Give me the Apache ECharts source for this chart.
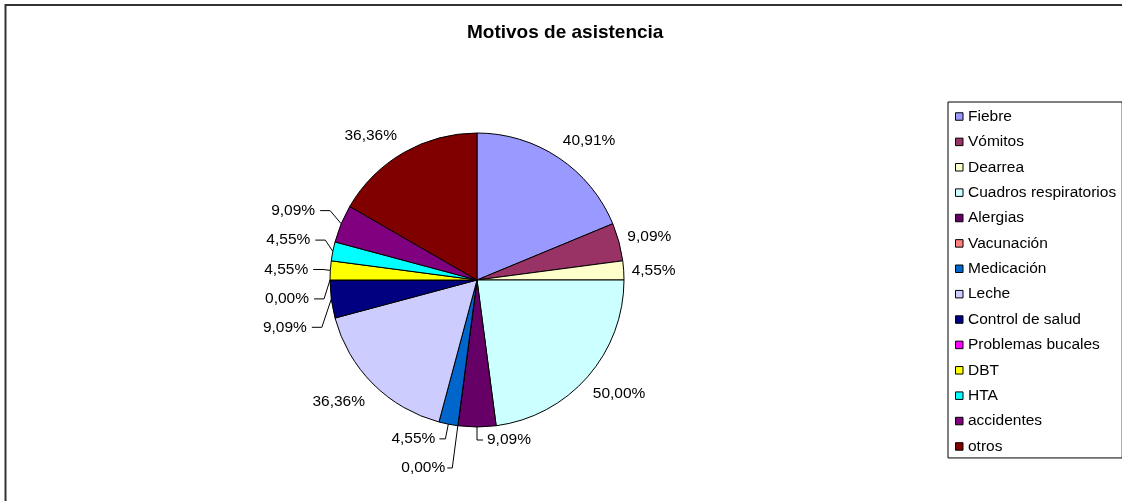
<!DOCTYPE html>
<html>
<head>
<meta charset="utf-8">
<title>Motivos de asistencia</title>
<script src="https://cdn.jsdelivr.net/npm/echarts@6.0.0/dist/echarts.min.js"></script>
<style>
  html, body { margin: 0; padding: 0; background: #fff; }
  #pieChart { width: 1122px; height: 501px; }
</style>
</head>
<body>
<div id="pieChart"></div>
<script>
// datos
const motivos = ['Fiebre', 'Vómitos', 'Dearrea', 'Cuadros respiratorios', 'Alergias', 'Vacunación',
  'Medicación', 'Leche', 'Control de salud', 'Problemas bucales', 'DBT', 'HTA', 'accidentes', 'otros'];
const porcentajes = [40.91, 9.09, 4.55, 50.00, 9.09, 0.00, 4.55, 36.36, 9.09, 0.00, 4.55, 4.55, 9.09, 36.36];

// paleta excel
const colores = ['#9999FF', '#993366', '#FFFFCC', '#CCFFFF', '#660066', '#FF8080', '#0066CC',
  '#CCCCFF', '#000080', '#FF00FF', '#FFFF00', '#00FFFF', '#800080', '#800000'];

// ajuste de etiquetas: [largo1, largo2, distancia, con linea, serie]
const etiquetas = {
  'Fiebre': [20, 0, -7, false, 'A'],
  'Vómitos': [19, 0, -10, false, 'A'],
  'Dearrea': [2, 0, 6, false, 'A'],
  'Cuadros respiratorios': [25, 0, -13.5, false, 'A'],
  'Alergias': [13, 6, 4, true, 'A'],
  'Vacunación': [42.6, 5, 2, true, 'A'],
  'Medicación': [15, 6, 4, true, 'A'],
  'Leche': [25.5, 0, -10, false, 'A'],
  'Control de salud': [20, 10, 5, true, 'B'],
  'Problemas bucales': [12, 10, 5, true, 'B'],
  'DBT': [12, 10, 5, true, 'B'],
  'HTA': [12, 10, 5, true, 'B'],
  'accidentes': [12, 10, 5, true, 'B'],
  'otros': [20, 0, -3.5, false, 'A']
};

const fuente = 'Arial, "Liberation Sans", sans-serif';

function formatoPct(p) {
  return p.value.toFixed(2).replace('.', ',') + '%';
}

function armarDatos(serie) {
  return motivos.map(function (m, i) {
    const t = etiquetas[m];
    const mostrar = t[4] === serie;
    return {
      name: m,
      value: porcentajes[i],
      itemStyle: serie === 'A' ? { color: colores[i] } : undefined,
      label: { show: mostrar, distanceToLabelLine: t[2] },
      labelLine: { show: mostrar && t[3], length: t[0], length2: t[1] }
    };
  });
}

const chart = echarts.init(document.getElementById('pieChart'));
chart.setOption({
  animation: false,
  backgroundColor: '#fff',
  title: {
    text: 'Motivos de asistencia',
    left: 467,
    top: 23,
    padding: 0,
    textStyle: { fontFamily: fuente, fontSize: 19, fontWeight: 'bold', color: '#000' }
  },
  legend: {
    orient: 'vertical',
    left: 948,
    top: 102,
    padding: [6.5, 6, 3.5, 7],
    itemWidth: 7.5,
    itemHeight: 7.5,
    itemGap: 9.38,
    icon: 'rect',
    borderColor: '#000',
    borderWidth: 1,
    itemStyle: { borderColor: '#000', borderWidth: 1 },
    textStyle: { fontFamily: fuente, fontSize: 15.5, color: '#000', lineHeight: 16 },
    data: motivos
  },
  graphic: [{
    type: 'rect',
    silent: true,
    shape: { x: 5.5, y: 5, width: 1200, height: 600 },
    style: { fill: 'none', stroke: '#333', lineWidth: 2 }
  }],
  series: [
    {
      name: 'A',
      type: 'pie',
      center: [477, 280],
      radius: 147,
      startAngle: 90,
      clockwise: true,
      avoidLabelOverlap: false,
      emphasis: { disabled: true },
      itemStyle: { borderColor: '#000', borderWidth: 1 },
      label: {
        position: 'outside',
        formatter: formatoPct,
        fontFamily: fuente,
        fontSize: 15.5,
        color: '#000'
      },
      labelLine: { lineStyle: { color: '#000', width: 1 } },
      data: armarDatos('A')
    },
    {
      name: 'B',
      type: 'pie',
      left: 0,
      top: 0,
      width: 1122,
      height: 343,
      center: [477, 280],
      radius: 147,
      startAngle: 90,
      clockwise: true,
      silent: true,
      avoidLabelOverlap: true,
      emphasis: { disabled: true },
      itemStyle: { color: 'rgba(0,0,0,0)', borderWidth: 0 },
      label: {
        position: 'outside',
        formatter: formatoPct,
        fontFamily: fuente,
        fontSize: 15.5,
        lineHeight: 27.4,
        color: '#000'
      },
      labelLine: { lineStyle: { color: '#000', width: 1 } },
      data: armarDatos('B')
    }
  ]
});
</script>
</body>
</html>
